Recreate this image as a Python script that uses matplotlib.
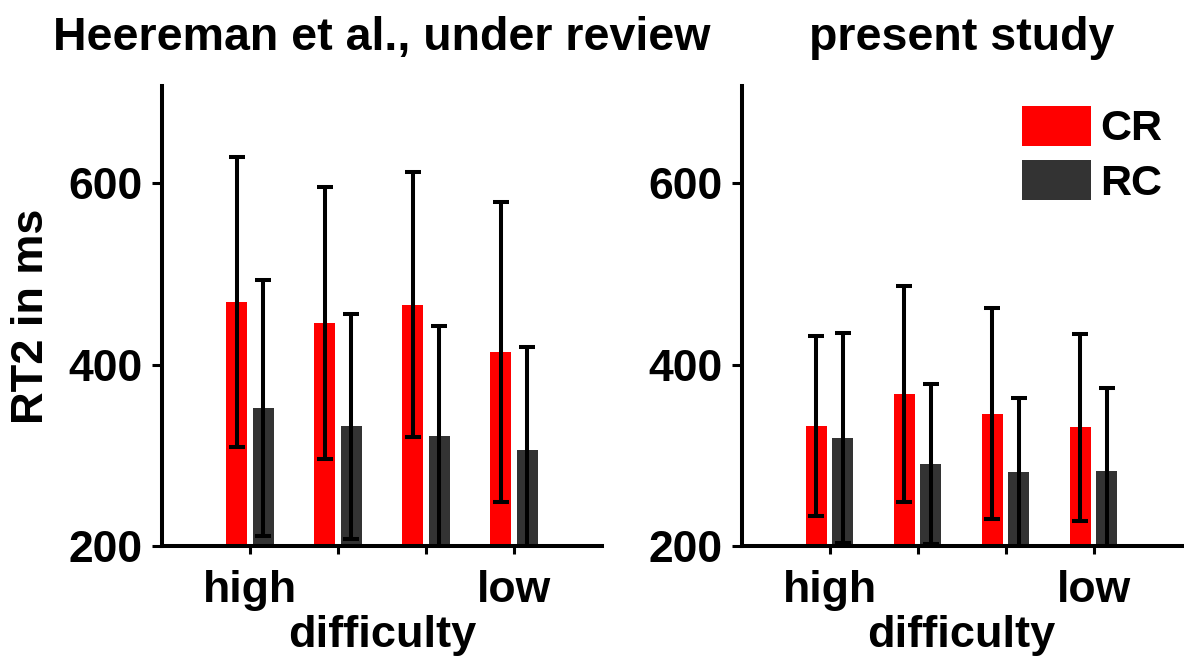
import matplotlib
matplotlib.use("Agg")
import matplotlib.pyplot as plt
import numpy as np

plt.rcParams['font.family'] = ['Liberation Sans', 'DejaVu Sans']
plt.rcParams['font.weight'] = 'bold'

# difficulty levels (only the extremes carry a label)
levels = [1, 2, 3, 4]
level_labels = ['high', '', '', 'low']

panel_titles = ['Heereman et al., under review', 'present study']

# mean RT2 (ms) and error half-widths, per difficulty level
prev_cr_mean = [469, 446, 466, 414]
prev_cr_err = [160, 150, 146, 165]
prev_rc_mean = [352, 332, 321, 306]
prev_rc_err = [141, 124, 122, 113]

pres_cr_mean = [332, 368, 346, 331]
pres_cr_err = [99, 119, 116, 103]
pres_rc_mean = [319, 290, 281, 283]
pres_rc_err = [116, 88, 82, 91]

series_names = ['CR', 'RC']
series_colors = ['#ff0000', '#333333']

yticks = [200, 400, 600]

fig = plt.figure(figsize=(11.84, 6.57), dpi=100)
ax_l = fig.add_axes([0.1368, 0.1690, 0.3716, 0.7001])
ax_r = fig.add_axes([0.6264, 0.1690, 0.3716, 0.7001])

panels = [
    (ax_l, panel_titles[0], [(prev_cr_mean, prev_cr_err), (prev_rc_mean, prev_rc_err)]),
    (ax_r, panel_titles[1], [(pres_cr_mean, pres_cr_err), (pres_rc_mean, pres_rc_err)]),
]

x = np.array(levels, dtype=float)
offsets = [-0.15, 0.15]
bar_w = 0.24
lw = 2.9

for ax, title, series in panels:
    for (mean, err), off, color, name in zip(series, offsets, series_colors, series_names):
        ax.bar(x + off, mean, width=bar_w, color=color, label=name, zorder=2)
        ax.errorbar(x + off, mean, yerr=err, fmt='none', ecolor='black',
                    elinewidth=lw, capsize=5.5, capthick=lw, zorder=3)
    ax.set_xlim(0, 5)
    ax.set_ylim(200, 707)
    ax.set_xticks(levels)
    ax.set_xticklabels(level_labels)
    ax.set_yticks(yticks)
    for s in ['top', 'right']:
        ax.spines[s].set_visible(False)
    for s in ['left', 'bottom']:
        ax.spines[s].set_linewidth(lw)
    ax.tick_params(axis='both', direction='out', width=2.2, length=7,
                   labelsize=32, pad=7)
    ax.tick_params(axis='x', length=6, pad=11)
    for lab in ax.get_xticklabels() + ax.get_yticklabels():
        lab.set_fontweight('bold')
    ax.set_title(title, fontsize=33.5, fontweight='bold', pad=26)
    ax.set_xlabel('difficulty', fontsize=32.5, fontweight='bold', labelpad=3)

ax_l.set_ylabel('RT2 in ms', fontsize=32.5, fontweight='bold', labelpad=12)

leg = ax_r.legend(loc='upper right', bbox_to_anchor=(0.955, 0.957), frameon=False,
                  fontsize=31, handlelength=1.6, handleheight=1.05,
                  handletextpad=0.2, labelspacing=0.25, borderpad=0.0,
                  borderaxespad=0.0, prop={'weight': 'bold', 'size': 31})

fig.savefig('out.png', dpi=100)
